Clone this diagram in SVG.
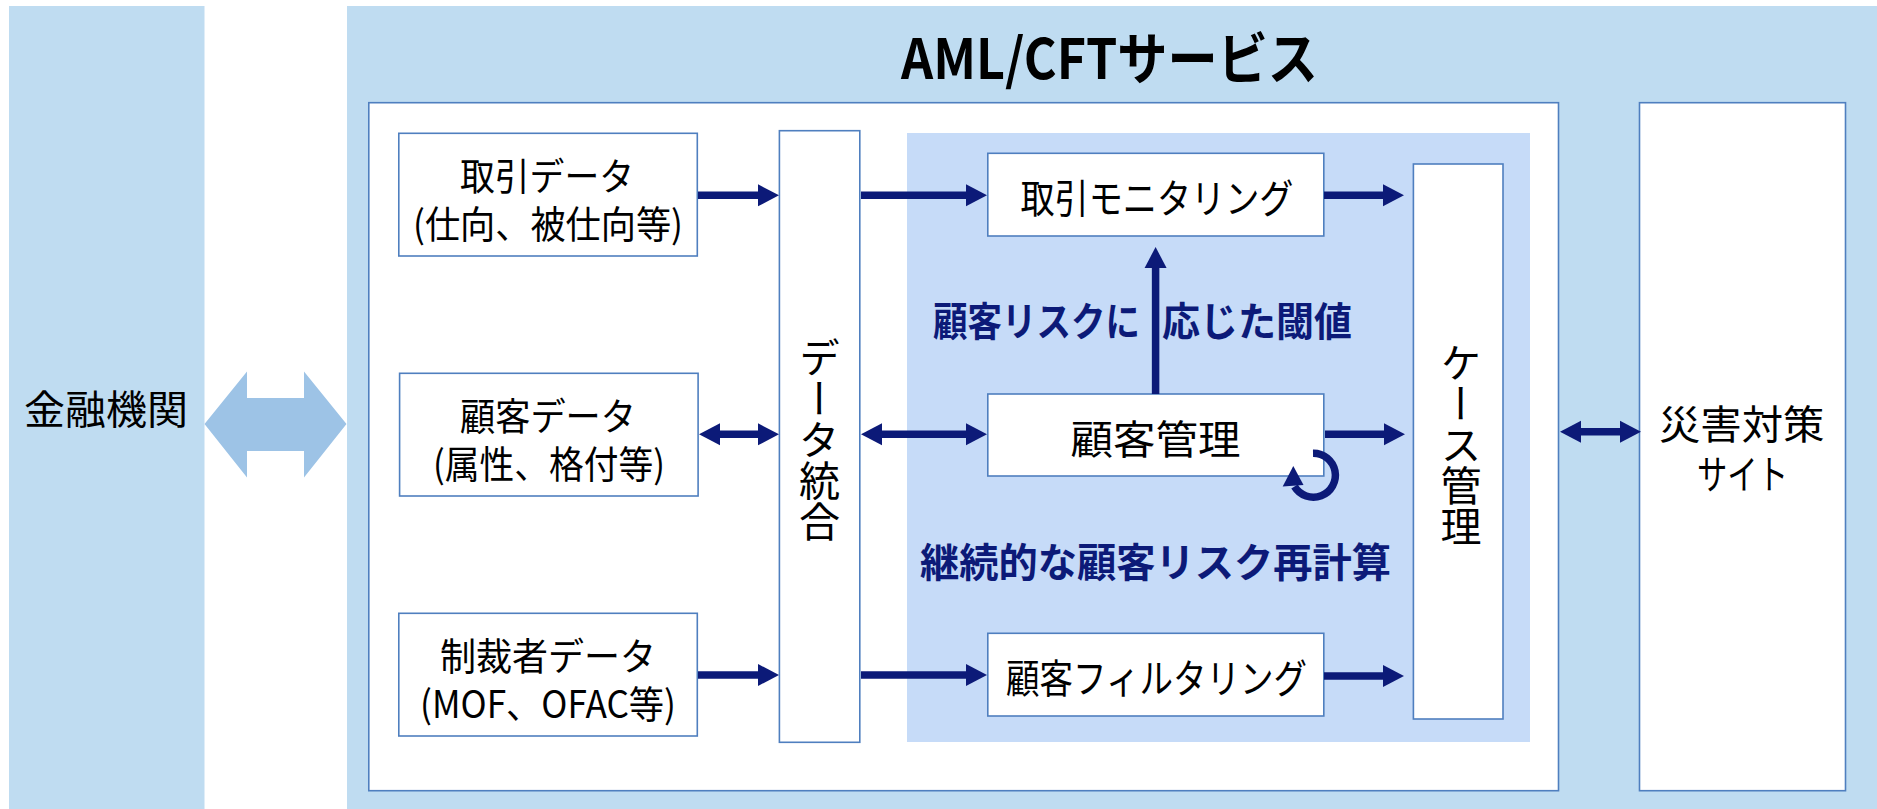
<svg xmlns="http://www.w3.org/2000/svg" width="1877" height="809" viewBox="0 0 1877 809">
<style>
.t{font-family:"Noto Sans CJK JP","Noto Sans",sans-serif;fill:#000}
.b{font-weight:700}
.lbl{font-family:"Noto Sans CJK JP","Noto Sans",sans-serif;font-weight:700;fill:#0C1A78}
.box{fill:#fff;stroke:#4F7FBF;stroke-width:1.6}
.panel{fill:#BFDCF1}
.ar{stroke:#0C1A78;stroke-width:7.5;fill:none}
.v{writing-mode:vertical-rl}
</style>
<defs>
<marker id="ah" markerUnits="userSpaceOnUse" markerWidth="22" markerHeight="23" refX="3" refY="11" orient="auto-start-reverse" viewBox="0 0 22 22">
<path d="M0,0 L21,11 L0,22 Z" fill="#0C1A78"/>
</marker>
</defs>
<rect width="1877" height="809" fill="#fff"/>
<g id="kinyu">
<rect class="panel" x="9" y="6" width="195.5" height="803"/>
<text class="t" x="24" y="424" font-size="40" textLength="164" lengthAdjust="spacingAndGlyphs">金融機関</text>
</g>
<g id="aml">
<rect class="panel" x="347" y="6" width="1530" height="803"/>
<text class="t b" x="901" y="79" font-size="56" textLength="417" lengthAdjust="spacingAndGlyphs">AML/CFTサービス</text>
<rect class="box" x="368.8" y="102.7" width="1189.7" height="688"/>
<rect x="907" y="133" width="623" height="609" fill="#C6DBF8"/>
</g>
<g id="torihiki-data">
<rect class="box" x="398.8" y="133.3" width="298.5" height="122.7"/>
<text class="t" font-size="38"><tspan x="460" y="190" textLength="174" lengthAdjust="spacingAndGlyphs">取引データ</tspan><tspan x="413" y="238" textLength="270" lengthAdjust="spacingAndGlyphs">(仕向、被仕向等)</tspan></text>
</g>
<g id="kokyaku-data">
<rect class="box" x="399.6" y="373.3" width="298.5" height="122.7"/>
<text class="t" font-size="38"><tspan x="460" y="430" textLength="176" lengthAdjust="spacingAndGlyphs">顧客データ</tspan><tspan x="433" y="478" textLength="232" lengthAdjust="spacingAndGlyphs">(属性、格付等)</tspan></text>
</g>
<g id="seisai-data">
<rect class="box" x="398.8" y="613.3" width="298.5" height="122.7"/>
<text class="t" font-size="38"><tspan x="440" y="670" textLength="216" lengthAdjust="spacingAndGlyphs">制裁者データ</tspan><tspan x="420" y="718" textLength="256" lengthAdjust="spacingAndGlyphs">(MOF、OFAC等)</tspan></text>
</g>
<g id="data-togo">
<rect class="box" x="779.4" y="130.7" width="80.4" height="611.6"/>
<text class="t v" x="819.5" y="337" font-size="41">データ統合</text>
</g>
<g id="torihiki-monitoring">
<rect class="box" x="987.8" y="153.3" width="336" height="82.7"/>
<text class="t" x="1020.5" y="213" font-size="40" textLength="273" lengthAdjust="spacingAndGlyphs">取引モニタリング</text>
</g>
<g id="kokyaku-kanri">
<rect class="box" x="987.8" y="394" width="336" height="82"/>
<text class="t" x="1070.5" y="454" font-size="40" textLength="170" lengthAdjust="spacingAndGlyphs">顧客管理</text>
</g>
<g id="kokyaku-filtering">
<rect class="box" x="987.8" y="633.3" width="336" height="82.7"/>
<text class="t" x="1006" y="693" font-size="40" textLength="301" lengthAdjust="spacingAndGlyphs">顧客フィルタリング</text>
</g>
<g id="case-kanri">
<rect class="box" x="1413.4" y="164" width="89.6" height="555"/>
<text class="t v" x="1461" y="342" font-size="41">ケース管理</text>
</g>
<g id="saigai">
<rect class="box" x="1639.5" y="102.7" width="206" height="688"/>
<text class="t" font-size="40"><tspan x="1659" y="439" textLength="165.5" lengthAdjust="spacingAndGlyphs">災害対策</tspan><tspan x="1697" y="489" textLength="91" lengthAdjust="spacingAndGlyphs">サイト</tspan></text>
</g>
<g id="labels">
<text class="lbl" y="336" font-size="40"><tspan x="933" textLength="207" lengthAdjust="spacingAndGlyphs">顧客リスクに</tspan><tspan x="1162" textLength="190" lengthAdjust="spacingAndGlyphs">応じた閾値</tspan></text>
<text class="lbl" x="920" y="577" font-size="40" textLength="471" lengthAdjust="spacingAndGlyphs">継続的な顧客リスク再計算</text>
</g>
<g id="connectors">
<polygon points="204.5,424 247,371.5 247,398 304,398 304,371.5 346.5,424 304,477.5 304,451 247,451 247,477.5" fill="#9DC3E6"/>
<line class="ar" x1="698" y1="195.3" x2="761" y2="195.3" marker-end="url(#ah)"/>
<line class="ar" x1="861" y1="195.3" x2="969" y2="195.3" marker-end="url(#ah)"/>
<line class="ar" x1="1324" y1="195.3" x2="1386" y2="195.3" marker-end="url(#ah)"/>
<line class="ar" x1="717" y1="434.3" x2="761" y2="434.3" marker-start="url(#ah)" marker-end="url(#ah)"/>
<line class="ar" x1="879" y1="434.3" x2="969" y2="434.3" marker-start="url(#ah)" marker-end="url(#ah)"/>
<line class="ar" x1="1325" y1="434.3" x2="1387" y2="434.3" marker-end="url(#ah)"/>
<line class="ar" x1="1155.6" y1="394" x2="1155.6" y2="265" marker-end="url(#ah)"/>
<line class="ar" x1="698" y1="675" x2="761" y2="675" marker-end="url(#ah)"/>
<line class="ar" x1="861" y1="675" x2="969" y2="675" marker-end="url(#ah)"/>
<line class="ar" x1="1324" y1="676" x2="1386" y2="676" marker-end="url(#ah)"/>
<line class="ar" x1="1578" y1="431.7" x2="1623" y2="431.7" marker-start="url(#ah)" marker-end="url(#ah)"/>
<path class="ar" stroke-width="7" d="M1313,453.2 A22,22 0 1 1 1294.5,486.5"/>
<polygon points="1293.3,466 1282.7,486.5 1303.5,485" fill="#0C1A78"/>
</g>
</svg>
